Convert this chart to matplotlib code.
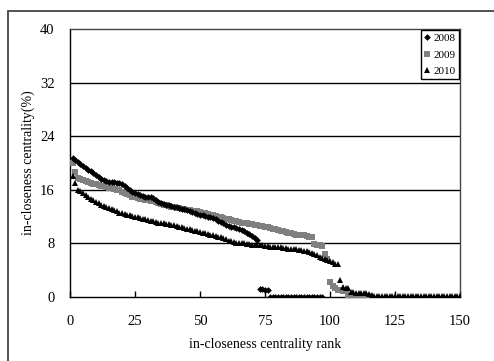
import numpy as np
import matplotlib.pyplot as plt
from matplotlib.patches import Rectangle

plt.rcParams['font.family'] = ['Liberation Serif', 'DejaVu Serif']

# 2008: Rang 1..97
werte_2008 = [20.8, 20.5, 20.2, 19.9, 19.6, 19.3, 19.0, 18.8, 18.5, 18.2,
              17.9, 17.6, 17.4, 17.3, 17.2, 17.1, 17.1, 17.0, 17.0, 16.8,
              16.5, 16.2, 16.0, 15.7, 15.5, 15.3, 15.2, 15.1, 15.0, 15.0,
              14.9, 14.8, 14.5, 14.2, 14.0, 13.9, 13.8, 13.7, 13.6, 13.5,
              13.4, 13.3, 13.2, 13.1, 13.0, 12.9, 12.7, 12.6, 12.4, 12.3,
              12.2, 12.1, 12.0, 11.9, 11.8, 11.6, 11.4, 11.2, 11.0, 10.8,
              10.6, 10.5, 10.4, 10.3, 10.2, 10.0, 9.8, 9.6, 9.4, 9.1,
              8.8, 8.5, 1.2, 1.2, 1.1, 1.1,
              0.0, 0.0, 0.0, 0.0, 0.0, 0.0, 0.0, 0.0, 0.0, 0.0,
              0.0, 0.0, 0.0, 0.0, 0.0, 0.0, 0.0, 0.0, 0.0, 0.0, 0.0]

# 2009: Rang 1..115
werte_2009 = [20.0, 18.7, 17.8, 17.6, 17.5, 17.3, 17.2, 17.0, 16.9, 16.8,
              16.7, 16.6, 16.5, 16.4, 16.3, 16.2, 16.1, 16.0, 15.9, 15.7,
              15.5, 15.3, 15.2, 15.0, 14.9, 14.8, 14.7, 14.6, 14.5, 14.5,
              14.4, 14.3, 14.2, 14.0, 13.9, 13.8, 13.7, 13.6, 13.5, 13.4,
              13.3, 13.3, 13.2, 13.1, 13.0, 13.0, 12.9, 12.9, 12.8, 12.7,
              12.6, 12.5, 12.4, 12.3, 12.2, 12.1, 12.0, 11.9, 11.8, 11.7,
              11.6, 11.5, 11.4, 11.3, 11.2, 11.1, 11.1, 11.0, 10.9, 10.9,
              10.8, 10.7, 10.6, 10.6, 10.5, 10.4, 10.3, 10.2, 10.1, 10.0,
              9.9, 9.8, 9.7, 9.6, 9.5, 9.4, 9.3, 9.3, 9.2, 9.2,
              9.1, 9.0, 9.0, 7.9, 7.8, 7.7, 7.6, 6.4, 5.6, 2.2,
              1.6, 1.3, 1.1, 1.0, 0.9, 0.9,
              0.1, 0.1, 0.1, 0.1, 0.1, 0.1, 0.1, 0.1, 0.1]

# 2010: Rang 1..150
werte_2010 = [18.0, 17.0, 16.0, 15.8, 15.5, 15.2, 15.0, 14.7, 14.5, 14.2,
              14.0, 13.8, 13.6, 13.5, 13.3, 13.1, 13.0, 12.8, 12.6, 12.5,
              12.4, 12.3, 12.2, 12.1, 12.0, 11.9, 11.8, 11.7, 11.6, 11.5,
              11.4, 11.3, 11.2, 11.1, 11.0, 11.0, 10.9, 10.9, 10.8, 10.7,
              10.6, 10.5, 10.4, 10.3, 10.2, 10.1, 10.0, 9.9, 9.8, 9.7,
              9.6, 9.5, 9.4, 9.3, 9.2, 9.1, 9.0, 8.9, 8.8, 8.6,
              8.4, 8.3, 8.2, 8.1, 8.1, 8.0, 8.0, 7.9, 7.9, 7.8,
              7.8, 7.8, 7.7, 7.7, 7.6, 7.6, 7.5, 7.5, 7.4, 7.4,
              7.4, 7.3, 7.3, 7.2, 7.2, 7.1, 7.1, 7.0, 7.0, 6.9,
              6.8, 6.7, 6.6, 6.4, 6.2, 6.0, 5.8, 5.7, 5.5, 5.4,
              5.2, 5.0, 4.9, 2.5, 1.5, 1.4, 1.3, 0.7, 0.7, 0.6,
              0.6, 0.6, 0.6, 0.6, 0.5, 0.3,
              0.2, 0.2, 0.2, 0.2, 0.2, 0.2, 0.2, 0.2, 0.2, 0.2,
              0.2, 0.2, 0.2, 0.2, 0.2, 0.2, 0.2, 0.2, 0.2, 0.2,
              0.2, 0.2, 0.2, 0.2, 0.2, 0.2, 0.2, 0.2, 0.2, 0.2,
              0.2, 0.2, 0.2, 0.2]

x_ticks = [0, 25, 50, 75, 100, 125, 150]
y_ticks = [0, 8, 16, 24, 32, 40]

fig = plt.figure(figsize=(4.94, 3.61), dpi=100)
ax = fig.add_axes([70 / 494, 1 - 297 / 361, 390 / 494, 268 / 361])

# Rahmen um das ganze Diagramm (nur links und oben sichtbar)
fig.patches.append(Rectangle((7.5 / 494, -0.2), 1.2, 0.2 + 1 - 11 / 361,
                             transform=fig.transFigure, fill=False,
                             edgecolor='#444444', linewidth=1.3))

rang_2008 = np.arange(1, len(werte_2008) + 1)
rang_2009 = np.arange(1, len(werte_2009) + 1)
rang_2010 = np.arange(1, len(werte_2010) + 1)

ax.plot(rang_2009, werte_2009, 's', color='#808080', markersize=4.3,
        markeredgewidth=0, label='2009', zorder=3)
ax.plot(rang_2008, werte_2008, 'D', color='black', markersize=3.4,
        markeredgewidth=0, label='2008', zorder=4)
ax.plot(rang_2010, werte_2010, '^', color='black', markersize=4.2,
        markeredgewidth=0, label='2010', zorder=4)

ax.set_xlim(0, 150)
ax.set_ylim(0, 40)
ax.set_xticks(x_ticks)
ax.set_yticks(y_ticks)
for y in y_ticks[1:-1]:
    ax.axhline(y, color='black', linewidth=1.0, zorder=1)

ax.spines['left'].set_color('black')
ax.spines['bottom'].set_color('black')
ax.spines['top'].set_color('#444444')
ax.spines['right'].set_color('#444444')
for s in ax.spines.values():
    s.set_linewidth(1.0)

ax.tick_params(axis='x', direction='in', length=4, width=1, pad=13, labelsize=10.5)
ax.tick_params(axis='y', length=0, pad=11, labelsize=10.5)

ax.set_xlabel('in-closeness centrality rank', fontsize=10, labelpad=7)
ax.set_ylabel('in-closeness centrality(%)', fontsize=10, labelpad=4)

handles, labels = ax.get_legend_handles_labels()
order = [1, 0, 2]
leg = ax.legend([handles[i] for i in order], [labels[i] for i in order],
                loc='upper right', bbox_to_anchor=(1.0, 1.0),
                fontsize=8, frameon=True, fancybox=False, framealpha=1,
                edgecolor='black', handlelength=0.5, handletextpad=0.3,
                labelspacing=0.6, borderpad=0.3, borderaxespad=0.1)
leg.get_frame().set_linewidth(1.0)

plt.savefig('out.png', dpi=100)
